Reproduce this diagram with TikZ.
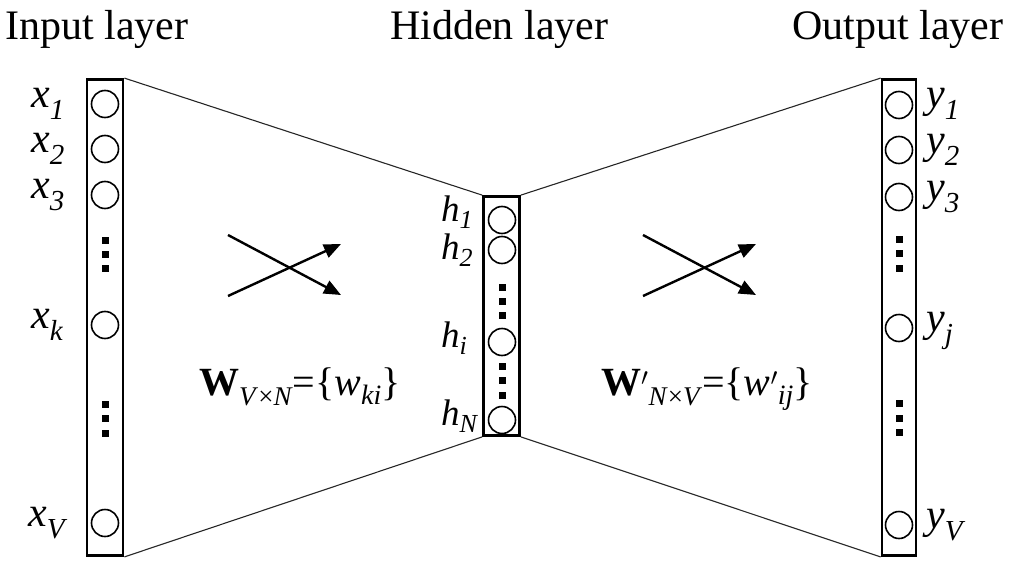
\documentclass[tikz,border=0pt]{standalone}
\usepackage{fontspec}
\setmainfont{Liberation Serif}
\usetikzlibrary{arrows.meta}
\newcommand\lbl[2]{\textit{#1}\raisebox{-12pt}{\fontsize{29}{29}\selectfont\textit{#2}}}
\newcommand\hlbl[2]{\textit{#1}\raisebox{-7pt}{\fontsize{26}{26}\selectfont\textit{#2}}}
\tikzset{
  layerbox/.style={draw, line width=2.8pt, rectangle, inner sep=0pt, minimum width=36pt},
  unit/.style={draw, circle, line width=1.6pt, minimum size=27pt, inner sep=0pt},
  sq/.style={fill=black, rectangle, inner sep=0pt, minimum size=7pt},
  title/.style={font=\fontsize{42}{42}\selectfont, inner sep=0pt, anchor=base west},
  lab/.style={font=\fontsize{42}{42}\selectfont, inner sep=0pt, anchor=base west},
  hlab/.style={font=\fontsize{37}{37}\selectfont, inner sep=0pt, anchor=base west},
  wlab/.style={font=\fontsize{40}{40}\selectfont, inner sep=0pt, anchor=base west},
  link/.style={line width=1.1pt, draw=black!85},
  cross/.style={line width=2.4pt, -{Triangle[length=17pt,width=14pt]}}
}
\begin{document}
\begin{tikzpicture}[x=1pt,y=-1pt]
\useasboundingbox (0,0) rectangle (1016,567);
% titles
\node[title] (t1) at (5,40) {Input layer};
\node[title] (t2) at (390,40) {Hidden layer};
\node[title] (t3) at (792,40) {Output layer};
% boxes
\node[layerbox, minimum height=476pt] (in) at (105,317.5) {};
\node[layerbox, minimum height=239pt] (hid) at (501.5,316) {};
\node[layerbox, minimum width=34pt, minimum height=476pt] (out) at (899,317.5) {};
% input units
\node[unit] (x1) at (105,104) {};
\node[unit] (x2) at (105,149) {};
\node[unit] (x3) at (105,195) {};
\node[unit] (xk) at (105,325) {};
\node[unit] (xV) at (105,523) {};
\foreach \y [count=\i] in {240,254,268} \node[sq] (xa\i) at (105,\y) {};
\foreach \y [count=\i] in {404,418,433} \node[sq] (xb\i) at (105,\y) {};
% hidden units
\node[unit] (h1) at (502,220) {};
\node[unit] (h2) at (502,250) {};
\node[unit] (hi) at (502,342) {};
\node[unit] (hN) at (502,420) {};
\foreach \y [count=\i] in {287,301,315} \node[sq] (ha\i) at (502,\y) {};
\foreach \y [count=\i] in {366,380,395} \node[sq] (hb\i) at (502,\y) {};
% output units
\node[unit] (y1) at (899,105) {};
\node[unit] (y2) at (899,150) {};
\node[unit] (y3) at (899,197) {};
\node[unit] (yj) at (899,328) {};
\node[unit] (yV) at (899,525) {};
\foreach \y [count=\i] in {239,253,268} \node[sq] (ya\i) at (899,\y) {};
\foreach \y [count=\i] in {403,418,432} \node[sq] (yb\i) at (899,\y) {};
% labels
\node[lab] (lx1) at (31,107) {\lbl{x}{1}};
\node[lab] (lx2) at (31,152) {\lbl{x}{2}};
\node[lab] (lx3) at (31,198) {\lbl{x}{3}};
\node[lab] (lxk) at (31,328) {\lbl{x}{k}};
\node[lab] (lxV) at (28,526) {\lbl{x}{V}};
\node[hlab] (lh1) at (441,221) {\hlbl{h}{1}};
\node[hlab] (lh2) at (441,259) {\hlbl{h}{2}};
\node[hlab] (lhi) at (441,347) {\hlbl{h}{i}};
\node[hlab] (lhN) at (441,425) {\hlbl{h}{N}};
\node[lab] (ly1) at (926,108) {\lbl{y}{1}};
\node[lab] (ly2) at (926,153) {\lbl{y}{2}};
\node[lab] (ly3) at (926,200) {\lbl{y}{3}};
\node[lab] (lyj) at (926,331) {\lbl{y}{j}};
\node[lab] (lyV) at (926,528) {\lbl{y}{V}};
% links between layers
\draw[link] (in.north east) -- (hid.north west);
\draw[link] (in.south east) -- (hid.south west);
\draw[link] (hid.north east) -- (out.north west);
\draw[link] (hid.south east) -- (out.south west);
% crossing arrows
\coordinate (a1) at (228,235); \coordinate (a2) at (341,295);
\coordinate (a3) at (228,296); \coordinate (a4) at (341,244);
\draw[cross] (a1) -- (a2);
\draw[cross] (a3) -- (a4);
\coordinate (b1) at (643,235); \coordinate (b2) at (756,295);
\coordinate (b3) at (643,296); \coordinate (b4) at (756,244);
\draw[cross] (b1) -- (b2);
\draw[cross] (b3) -- (b4);
% weight labels
\node[wlab] (w1) at (199,395) {\textbf{W}\raisebox{-10pt}{\fontsize{27}{27}\selectfont\textit{V}×\textit{N}}=\{\textit{w}\raisebox{-9pt}{\fontsize{28}{28}\selectfont\textit{ki}}\}};
\node[wlab] (w2) at (601,395) {\textbf{W}$'$\raisebox{-10pt}{\fontsize{27}{27}\selectfont\textit{N}×\textit{V}}=\{\textit{w}$'$\raisebox{-9pt}{\fontsize{28}{28}\selectfont\textit{ij}}\}};
\end{tikzpicture}
\end{document}
